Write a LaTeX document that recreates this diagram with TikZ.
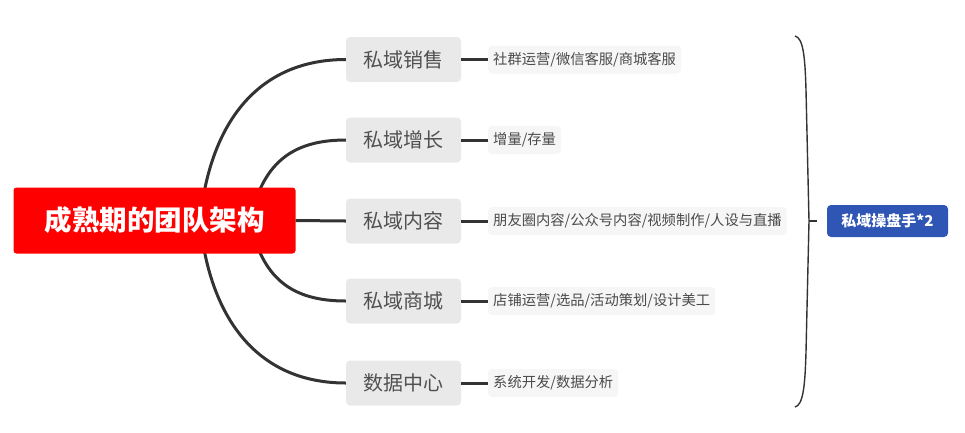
\documentclass[tikz,border=0pt]{standalone}
\usepackage{fontspec}
\setmainfont{Noto Sans CJK SC}
\definecolor{linec}{HTML}{333333}
\definecolor{grayfill}{HTML}{E8E9E8}
\definecolor{leaffill}{HTML}{F6F6F6}
\definecolor{graytext}{HTML}{505050}
\definecolor{leaftext}{HTML}{4A4A4A}
\definecolor{bluefill}{HTML}{2F55B5}
\tikzset{
  rootbox/.style={fill=red, rounded corners=3pt, minimum width=282pt, minimum height=66pt, text=white, font=\fontsize{27.5}{30}\selectfont\bfseries},
  topicbox/.style={fill=grayfill, rounded corners=4pt, minimum width=115pt, minimum height=45pt, text=graytext, font=\fontsize{20}{24}\selectfont},
  leafbox/.style={fill=leaffill, rounded corners=4pt, minimum height=28pt, inner xsep=5pt, anchor=west, text=leaftext, font=\fontsize{14.3}{16}\selectfont},
  bluebox/.style={fill=bluefill, rounded corners=4pt, minimum width=121pt, minimum height=32pt, text=white, font=\fontsize{15}{18}\selectfont\bfseries},
  conn/.style={draw=linec, line width=3pt},
  brace/.style={draw=linec, line width=1.4pt}
}
\begin{document}
\begin{tikzpicture}[x=1pt,y=-1pt]
\useasboundingbox (0,0) rectangle (965,432);
% topic nodes
\node[topicbox] (t1) at (403.5,59.5) {私域销售};
\node[topicbox] (t2) at (403.5,140) {私域增长};
\node[topicbox] (t3) at (403.5,221) {私域内容};
\node[topicbox] (t4) at (403.5,301) {私域商城};
\node[topicbox] (t5) at (403.5,383) {数据中心};
% curves from root (drawn below root)
\coordinate (s1) at (200,221);
\coordinate (s2) at (250,221);
\draw[conn] (s1) .. controls (210,120) and (260,59.5) .. (t1.west);
\draw[conn] (s2) .. controls (262,165) and (290,140) .. (t2.west);
\draw[conn] (s2) .. controls (262,277) and (290,301) .. (t4.west);
\draw[conn] (s1) .. controls (210,322) and (260,383) .. (t5.west);
\node[rootbox] (root) at (154.5,220.5) {成熟期的团队架构};
\draw[conn] (root.east) -- (t3.west);
% leaves
\node[leafbox] (l1) at (488,59.5) {社群运营/微信客服/商城客服};
\node[leafbox] (l2) at (488,140) {增量/存量};
\node[leafbox] (l3) at (488,221) {朋友圈内容/公众号内容/视频制作/人设与直播};
\node[leafbox] (l4) at (488,301) {店铺运营/选品/活动策划/设计美工};
\node[leafbox] (l5) at (488,383) {系统开发/数据分析};
\foreach \i in {1,...,5} {\draw[conn] (t\i.east) -- (l\i.west);}
% brace and summary
\node[bluebox] (sum) at (887.5,221) {私域操盘手*2};
\coordinate (bt) at (795,36);
\coordinate (bb) at (795,407);
\coordinate (bm) at (809,221);
\draw[brace] (bt) .. controls (803,38) and (805,55) .. (806,90) -- (809,221) -- (806,352) .. controls (805,387) and (803,405) .. (bb);
\draw[brace] (bm) -- (817,221);
\end{tikzpicture}
\end{document}
